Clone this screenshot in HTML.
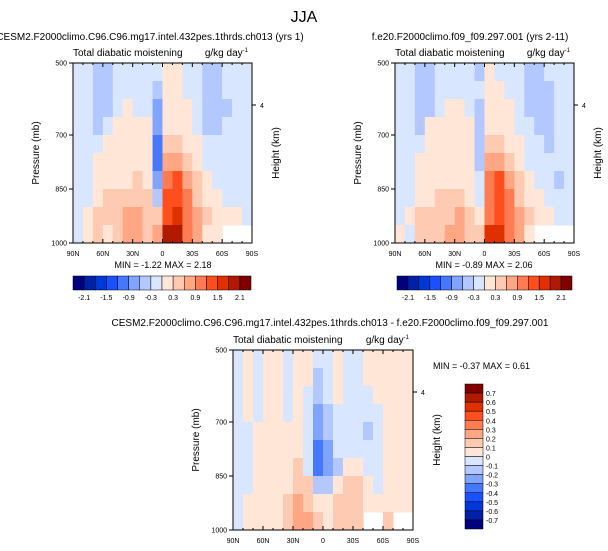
<!DOCTYPE html>
<html><head><meta charset="utf-8">
<style>
html,body{margin:0;padding:0;background:#fff;}
svg{display:block;font-family:"Liberation Sans",sans-serif;}
</style></head>
<body>
<svg id="fig" width="608" height="551" viewBox="0 0 608 551">
<text x="304" y="22" font-size="16" text-anchor="middle">JJA</text>
</svg>
<script>
// ---- data (rows: 500..1000 mb in 50 mb bands; cols: 90N..90S in 10° bands) ----
const latLabels = ["90N","60N","30N","0","30S","60S","90S"];
const pLabels = [500,700,850,1000];
const fullLevels = [-2.1,-1.8,-1.5,-1.2,-0.9,-0.6,-0.3,0,0.3,0.6,0.9,1.2,1.5,1.8,2.1];
const fullBarLabels = ["-2.1","-1.5","-0.9","-0.3","0.3","0.9","1.5","2.1"];
const diffLevels = [-0.7,-0.6,-0.5,-0.4,-0.3,-0.2,-0.1,0,0.1,0.2,0.3,0.4,0.5,0.6,0.7];
const diffBarLabels = ["0.7","0.6","0.5","0.4","0.3","0.2","0.1","0","-0.1","-0.2","-0.3","-0.4","-0.5","-0.6","-0.7"];
const N = null;
const panel1 = [
[-0.1,-0.1,-0.4,-0.4,-0.1,-0.1,-0.1,-0.1,-0.1,0.1,0.1,-0.1,-0.1,-0.4,-0.4,-0.1,-0.1,-0.1],
[-0.1,-0.1,-0.4,-0.4,-0.1,-0.1,-0.1,-0.1,-0.4,0.1,0.1,-0.1,-0.1,-0.4,-0.4,-0.1,-0.1,-0.1],
[-0.1,-0.1,-0.4,-0.4,-0.1,0.1,-0.1,-0.1,-0.7,0.1,0.1,0.1,-0.1,-0.4,-0.4,-0.4,-0.1,-0.1],
[-0.1,-0.1,-0.4,-0.1,0.1,0.1,0.1,0.1,-0.7,0.1,0.1,0.1,-0.1,-0.4,-0.4,-0.1,-0.1,-0.1],
[-0.1,-0.1,-0.1,0.1,0.1,0.1,0.1,0.1,-1.0,0.4,0.4,0.1,0.1,-0.1,-0.1,-0.1,-0.1,-0.1],
[-0.1,-0.1,0.1,0.1,0.1,0.1,0.1,0.1,-1.0,0.7,0.7,0.4,0.1,-0.1,-0.1,-0.1,-0.1,-0.1],
[-0.1,-0.1,0.1,0.1,0.1,0.1,0.4,0.1,-0.7,1.0,1.3,0.7,0.4,0.1,-0.1,-0.1,-0.1,-0.1],
[-0.1,-0.1,0.1,0.4,0.4,0.4,0.4,0.4,-0.4,1.3,1.3,1.0,0.4,0.1,0.1,-0.1,-0.1,-0.1],
[-0.1,0.1,0.4,0.4,0.4,0.7,0.7,0.4,0.4,1.3,1.6,1.0,0.7,0.4,0.1,0.1,0.1,-0.1],
[-0.1,0.1,0.4,0.1,0.4,0.7,0.7,0.4,0.7,1.9,1.9,1.0,0.7,0.1,0.1,N,N,N]];
const panel2 = [
[-0.1,-0.1,-0.4,-0.4,-0.1,-0.1,-0.1,-0.1,-0.4,0.1,-0.1,-0.1,-0.1,-0.4,-0.4,-0.1,-0.1,-0.1],
[-0.1,-0.1,-0.4,-0.4,-0.1,-0.1,-0.1,-0.1,-0.1,0.1,0.1,-0.1,-0.1,-0.4,-0.4,-0.4,-0.1,-0.1],
[-0.1,-0.1,-0.4,-0.4,-0.1,0.1,0.1,-0.1,-0.4,0.1,0.1,0.1,-0.1,-0.4,-0.4,-0.4,-0.1,-0.1],
[-0.1,-0.1,-0.4,0.1,0.1,0.1,0.1,0.1,-0.4,0.1,0.1,0.1,-0.1,-0.1,-0.4,-0.4,-0.1,-0.1],
[-0.1,-0.1,-0.1,0.1,0.1,0.1,0.1,0.1,-0.4,0.4,0.4,0.1,0.1,-0.1,-0.1,-0.4,-0.1,-0.1],
[-0.1,-0.1,0.1,0.1,0.1,0.1,0.1,0.1,-0.4,0.7,0.7,0.4,0.1,-0.1,-0.1,-0.1,-0.1,-0.1],
[-0.1,-0.1,0.1,0.1,0.1,0.1,0.1,0.1,-0.1,1.0,1.3,0.7,0.4,0.1,-0.1,-0.1,-0.4,-0.1],
[-0.1,-0.1,0.1,0.1,0.4,0.4,0.4,0.1,-0.1,1.0,1.3,1.0,0.4,0.1,0.1,-0.1,-0.1,-0.1],
[-0.1,0.1,0.4,0.4,0.4,0.4,0.7,0.4,0.1,1.0,1.3,1.0,0.7,0.4,0.1,0.1,-0.1,-0.1],
[0.1,-0.1,0.4,0.4,0.4,0.7,0.7,0.4,0.4,1.6,1.6,1.0,0.7,0.1,N,N,N,N]];
const diffData = [
[-0.05,0.05,-0.05,0.05,0.05,-0.05,0.05,0.05,-0.05,-0.05,0.05,-0.05,-0.05,0.05,0.05,0.05,0.05,0.05],
[-0.05,0.05,-0.05,0.05,0.05,-0.05,0.05,0.05,-0.15,-0.05,0.05,-0.05,-0.05,0.05,0.05,0.05,0.05,0.05],
[-0.05,0.05,-0.05,0.05,0.05,-0.05,0.05,-0.05,-0.15,-0.05,0.05,-0.05,-0.05,-0.05,0.05,0.05,0.05,0.05],
[-0.05,0.05,-0.05,0.05,0.05,-0.05,0.05,-0.05,-0.25,-0.15,-0.05,-0.05,-0.05,-0.05,-0.05,0.05,0.05,0.05],
[-0.05,-0.05,0.05,0.05,0.05,0.05,0.05,-0.05,-0.25,-0.15,-0.05,-0.05,-0.05,-0.15,-0.05,0.05,0.05,0.05],
[-0.05,-0.05,0.05,0.05,0.05,0.05,0.05,-0.05,-0.35,-0.25,-0.05,-0.05,-0.05,-0.05,-0.05,0.05,0.05,0.05],
[-0.05,-0.05,0.05,0.05,0.05,0.05,0.15,-0.05,-0.35,-0.25,-0.15,0.05,0.05,-0.05,-0.05,0.05,0.05,0.05],
[-0.05,-0.05,0.05,0.05,0.05,0.05,0.15,0.15,-0.15,-0.15,0.05,0.15,0.15,0.05,-0.05,0.05,0.05,0.05],
[-0.05,0.05,0.05,0.05,0.05,0.15,0.25,0.15,0.05,0.05,0.15,0.15,0.15,0.05,0.05,0.05,0.05,0.05],
[-0.05,0.05,0.05,0.05,0.05,0.15,0.25,0.25,0.15,0.05,0.15,0.15,0.15,N,N,0.15,N,N]];

const colors = ["#00007f","#0020a8","#0038d8","#1a50ff","#4678ff","#80a4ff","#b3c8ff","#d8e6ff","#ffe6d6","#ffcab2","#ffa684","#ff7b52","#ff4e1e","#e03000","#b01a00","#800000"];
const NS="http://www.w3.org/2000/svg";
const svg=document.getElementById('fig');
function el(tag,attrs,parent){const e=document.createElementNS(NS,tag);for(const k in attrs)e.setAttribute(k,attrs[k]);(parent||svg).appendChild(e);return e;}
function colorFor(v,levels){let i=0;while(i<levels.length&&v>=levels[i])i++;return colors[i];}

function panel(cfg){
  const {x0,y0,w,h,data,levels,title,titleX,titleY,minmax,mmX,mmY,mmAnchor,name,tick4Y,varY}=cfg;
  const g=el('g',{});
  
  
  const xs=d=>x0+(d+90)/180*w;
  const ys=p=>y0+(p-500)/500*h;
  const nr=data.length,nc=data[0].length;
  for(let r=0;r<nr;r++)for(let c=0;c<nc;c++){
    const v=data[r][c]; if(v===null)continue;
    const rc=el('rect',{x:xs(-90+c*10),y:ys(500+r*50),width:xs(-80+c*10)-xs(-90+c*10)+0.5,height:ys(550+r*50)-ys(500+r*50)+0.5,fill:colorFor(v,levels)},g);
    
    
  }
  const fr=el('rect',{x:x0,y:y0,width:w,height:h,fill:'none',stroke:'#000','stroke-width':1},g);
  
  
  latLabels.forEach((l,i)=>{const x=xs(-90+i*30);
    el('line',{x1:x,x2:x,y1:y0+h,y2:y0+h-4,stroke:'#000'},g);
    el('line',{x1:x,x2:x,y1:y0,y2:y0+4,stroke:'#000'},g);
    const t=el('text',{x:x,y:y0+h+13,'font-size':7,'text-anchor':'middle'},g);t.textContent=l;
    
    });
  for(let d=-80;d<90;d+=10){if(d%30===0)continue;const x=xs(d);
    el('line',{x1:x,x2:x,y1:y0+h,y2:y0+h-2,stroke:'#000'},g);el('line',{x1:x,x2:x,y1:y0,y2:y0+2,stroke:'#000'},g);}
  pLabels.forEach(p=>{const y=ys(p);
    el('line',{x1:x0,x2:x0-4,y1:y,y2:y,stroke:'#000'},g);
    const t=el('text',{x:x0-6,y:y+2.5,'font-size':7,'text-anchor':'end'},g);t.textContent=p;
    
    });
  el('line',{x1:x0+w,x2:x0+w+4,y1:tick4Y,y2:tick4Y,stroke:'#000'},g);
  let t=el('text',{x:x0+w+8,y:tick4Y+3,'font-size':7},g);t.textContent='4';
  t=el('text',{'font-size':10,'text-anchor':'middle',transform:`translate(${x0-34},${y0+h/2}) rotate(-90)`},g);t.textContent='Pressure (mb)';
  
  t=el('text',{'font-size':10,'text-anchor':'middle',transform:`translate(${x0+w+27},${y0+h/2}) rotate(-90)`},g);t.textContent='Height (km)';
  
  t=el('text',{x:x0,y:varY,'font-size':10},g);t.textContent='Total diabatic moistening';
  
  t=el('text',{x:x0+w-4,y:varY,'font-size':10,'text-anchor':'end'},g);t.innerHTML='g/kg day<tspan font-size="6" dy="-4">-1</tspan>';
  
  t=el('text',{x:titleX,y:titleY,'font-size':10,'text-anchor':'middle'},g);t.textContent=title;
  
  t=el('text',{x:mmX,y:mmY,'font-size':9,'text-anchor':mmAnchor,'xml:space':'preserve'},g);t.textContent=minmax;
  
}
function hbar(x0,y0,w,h,name){
  const g=el('g',{});
  const bw=w/16;
  colors.forEach((c,i)=>el('rect',{x:x0+i*bw,y:y0,width:bw,height:h,fill:c,stroke:'#000','stroke-width':0.5},g));
  fullBarLabels.forEach((l,i)=>{const t=el('text',{x:x0+(1+2*i)*bw,y:y0+h+10,'font-size':7,'text-anchor':'middle'},g);t.textContent=l;});
}
function vbar(x0,y0,w,h,name){
  const g=el('g',{});
  const bh=h/16;
  colors.slice().reverse().forEach((c,i)=>el('rect',{x:x0,y:y0+i*bh,width:w,height:bh,fill:c,stroke:'#000','stroke-width':0.5},g));
  diffBarLabels.forEach((l,i)=>{const t=el('text',{x:x0+w+3,y:y0+(i+1)*bh+3,'font-size':7},g);t.textContent=l;});
}
panel({x0:73,y0:63,w:179,h:180,data:panel1,levels:fullLevels,title:'CESM2.F2000climo.C96.C96.mg17.intel.432pes.1thrds.ch013 (yrs 1)',titleX:150,titleY:40,varY:56,minmax:'MIN =  -1.22  MAX =   2.18',mmX:163,mmY:268,mmAnchor:'middle',name:'panel-cesm2',tick4Y:105});
panel({x0:395,y0:63,w:179,h:180,data:panel2,levels:fullLevels,title:'f.e20.F2000climo.f09_f09.297.001 (yrs 2-11)',titleX:470,titleY:40,varY:56,minmax:'MIN =  -0.89  MAX =   2.06',mmX:484,mmY:268,mmAnchor:'middle',name:'panel-f09',tick4Y:105});
panel({x0:233,y0:350,w:180,h:180,data:diffData,levels:diffLevels,title:'CESM2.F2000climo.C96.C96.mg17.intel.432pes.1thrds.ch013 - f.e20.F2000climo.f09_f09.297.001',titleX:330,titleY:326,varY:343,minmax:'MIN =  -0.37  MAX =   0.61',mmX:433,mmY:369,mmAnchor:'start',name:'panel-difference',tick4Y:392});
hbar(73,276,178,14,'colorbar-cesm2');
hbar(397,276,175,14,'colorbar-f09');
vbar(465,384,18,145,'colorbar-difference');
</script>
</body></html>
